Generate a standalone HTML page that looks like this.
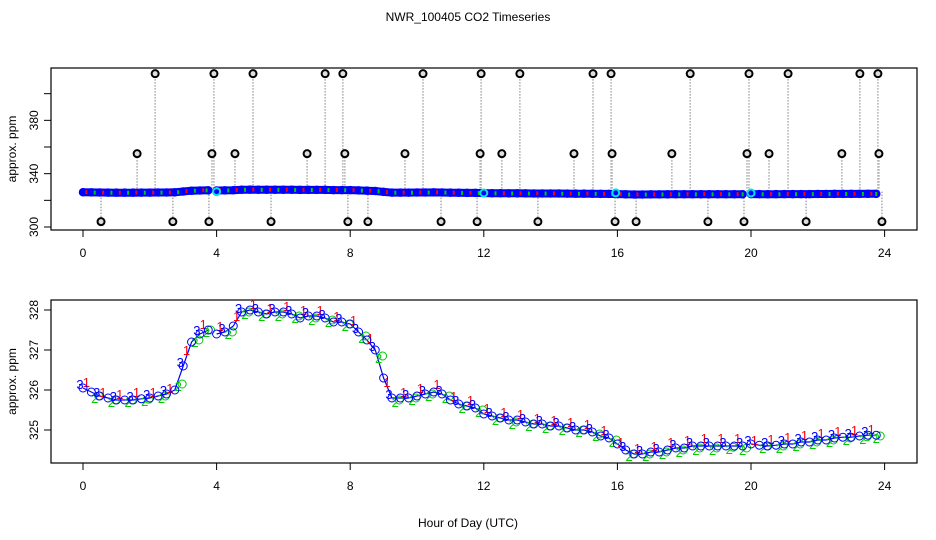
<!DOCTYPE html>
<html><head><meta charset="utf-8"><style>
html,body{margin:0;padding:0;background:#fff;}
svg{display:block;font-family:"Liberation Sans",sans-serif;}
</style></head><body>
<svg id="c" width="936" height="540" viewBox="0 0 936 540">
<text x="468" y="21" text-anchor="middle" font-size="12">NWR_100405  CO2 Timeseries</text>
<text x="468" y="527" text-anchor="middle" font-size="12">Hour of Day (UTC)</text>
<g id="topPanel"></g>
<g id="botPanel"></g>
</svg>
<script>
const xTicks=[0,4,8,12,16,20,24];
const topYTicks=[300,320,340,360,380,400];
const topYLabels=[300,340,380];
const botYTicks=[325,326,327,328];
const blueHours=[0,0.25,0.5,0.75,1,1.25,1.5,1.75,2,2.25,2.5,2.75,3,3.25,3.5,3.75,null,4,4.25,4.5,4.75,5,5.25,5.5,5.75,6,6.25,6.5,6.75,7,7.25,7.5,7.75,8,8.25,8.5,8.75,9,9.25,9.5,9.75,10,10.25,10.5,10.75,11,11.25,11.5,11.75,12,12.25,12.5,12.75,13,13.25,13.5,13.75,14,14.25,14.5,14.75,15,15.25,15.5,15.75,16,16.25,16.5,16.75,17,17.25,17.5,17.75,18,18.25,18.5,18.75,19,19.25,19.5,19.75,null,20,20.25,20.5,20.75,21,21.25,21.5,21.75,22,22.25,22.5,22.75,23,23.25,23.5,23.75];
const blueVals=[326.05,325.95,325.85,325.8,325.75,325.75,325.75,325.78,325.8,325.85,325.9,326.0,326.6,327.2,327.4,327.5,null,327.4,327.45,327.6,327.95,328.0,327.95,327.9,327.95,327.95,327.9,327.8,327.85,327.85,327.8,327.7,327.7,327.65,327.45,327.25,327.0,326.3,325.8,325.8,325.8,325.85,325.9,325.95,325.9,325.75,325.65,325.6,325.55,325.4,325.35,325.3,325.25,325.25,325.2,325.15,325.15,325.1,325.1,325.05,325.0,325.0,324.95,324.85,324.8,324.65,324.5,324.4,324.4,324.45,324.45,324.5,324.55,324.55,324.6,324.6,324.6,324.6,324.6,324.6,324.6,null,324.65,324.62,324.6,324.62,324.65,324.65,324.7,324.7,324.75,324.75,324.8,324.82,324.82,324.85,324.87,324.87];
const redHours=[0.1,0.6,1.1,1.6,2.1,2.6,3.1,3.6,4.1,4.6,5.1,5.6,6.1,6.6,7.1,7.6,8.1,8.6,9.1,9.6,10.1,10.6,11.1,11.6,12.1,12.6,13.1,13.6,14.1,14.6,15.1,15.6,16.1,16.6,17.1,17.6,18.1,18.6,19.1,19.6,20.1,20.6,21.1,21.6,22.1,22.6,23.1,23.6];
const redVals=[326.1,325.85,325.8,325.85,325.85,325.95,326.9,327.55,327.5,327.75,328.05,327.95,328.0,327.9,327.9,327.75,327.65,327.2,326.1,325.85,325.95,326.05,325.75,325.65,325.45,325.35,325.3,325.2,325.15,325.1,325.05,324.9,324.6,324.45,324.5,324.6,324.65,324.7,324.7,324.7,324.65,324.68,324.72,324.78,324.82,324.88,324.9,324.92];
const greenHours=[0.35,0.85,1.35,1.85,2.35,2.85,3.35,3.7,4.35,4.85,5.35,5.85,6.35,6.85,7.35,7.85,8.35,8.85,9.35,9.85,10.35,10.85,11.35,11.85,12.35,12.85,13.35,13.85,14.35,14.85,15.35,15.85,16.35,16.85,17.35,17.85,18.35,18.85,19.35,19.75,20.35,20.85,21.35,21.85,22.35,22.85,23.35,23.75];
const greenVals=[325.8,325.7,325.7,325.72,325.8,326.1,327.2,327.45,327.4,327.9,327.85,327.85,327.8,327.75,327.7,327.6,327.3,326.8,325.7,325.75,325.85,325.8,325.55,325.45,325.25,325.15,325.1,325.05,325.0,324.95,324.85,324.7,324.35,324.35,324.4,324.45,324.5,324.5,324.52,324.5,324.55,324.55,324.6,324.65,324.7,324.75,324.78,324.8];
const highOutHours=[2.16,3.92,5.09,7.25,7.78,10.18,11.92,13.08,15.27,15.81,18.18,19.94,21.11,23.26,23.80];
const highOutVals=[415,415,415,415,415,415,415,415,415,415,415,415,415,415,415];
const midOutHours=[1.62,3.86,4.55,6.71,7.84,9.64,11.89,12.54,14.70,15.84,17.63,19.88,20.54,22.72,23.83];
const midOutVals=[355,355,355,355,355,355,355,355,355,355,355,355,355,355,355];
const lowOutHours=[0.54,2.69,3.77,5.63,7.93,8.53,10.72,11.80,13.62,15.93,16.56,18.71,19.79,21.65,23.92];
const lowOutVals=[304,304,304,304,304,304,304,304,304,304,304,304,304,304,304];
const calHours=[4.0,12.0,15.95,20.0];
const calVals=[326.5,325.5,325.6,325.5];

const NS="http://www.w3.org/2000/svg";
function mk(p,t,a){const e=document.createElementNS(NS,t);for(const k in a)e.setAttribute(k,a[k]);p.appendChild(e);return e;}
const PL=51,PR=917;
const xs=h=>83+h*33.4;
const yTop=v=>227-(v-300)*1.3333;
const yBot=v=>430-(v-325)*40;

function axes(g,T,B,ys,ticks,labels,name){
  let e=mk(g,'rect',{x:PL,y:T,width:PR-PL,height:B-T,fill:'none',stroke:'#000','stroke-width':1.2});
  
  
  xTicks.forEach(h=>{
    e=mk(g,'line',{x1:xs(h),x2:xs(h),y1:B,y2:B+7,stroke:'#000'});
    
    
    e=mk(g,'text',{x:xs(h),y:B+27,'text-anchor':'middle','font-size':12});e.textContent=h;
    
    
  });
  ticks.forEach(v=>{
    e=mk(g,'line',{x1:PL-7,x2:PL,y1:ys(v),y2:ys(v),stroke:'#000'});
    
    
  });
  labels.forEach(v=>{
    e=mk(g,'text',{x:0,y:0,'text-anchor':'middle','font-size':12,transform:`translate(38,${ys(v)}) rotate(-90)`});e.textContent=v;
    
    
  });
  e=mk(g,'text',{x:0,y:0,'text-anchor':'middle','font-size':12,transform:`translate(16,${(T+B)/2}) rotate(-90)`});e.textContent='approx. ppm';
  
  
}
function pathD(hs,vs,ys){let d='',pen=false;hs.forEach((h,i)=>{if(h===null||vs[i]===null){pen=false;return;}d+=(pen?'L':'M')+xs(h).toFixed(1)+' '+ys(vs[i]).toFixed(1);pen=true;});return d;}

// top panel
const topG=document.getElementById('topPanel');
axes(topG,68,230,yTop,topYTicks,topYLabels,'top');
const baseV=326.5;
const outSets=[[highOutHours,highOutVals],[midOutHours,midOutVals],[lowOutHours,lowOutVals]];
outSets.forEach(([hs,vs])=>{
  hs.forEach((h,i)=>{
    const e=mk(topG,'line',{x1:xs(h),x2:xs(h),y1:yTop(baseV),y2:yTop(vs[i]),stroke:'#aaa','stroke-width':1.5,'stroke-dasharray':'1.5 1.5'});
    
    
  });
});
const band=mk(topG,'path',{d:pathD(blueHours,blueVals,yTop),fill:'none',stroke:'#0000ff','stroke-width':8,'stroke-linecap':'round'});


blueHours.forEach((h,i)=>{if(h===null)return;
  const c=mk(topG,'circle',{cx:xs(h),cy:yTop(blueVals[i]),r:3.5,fill:'none',stroke:'#0000ff','stroke-width':1.5});
  
  });
greenHours.forEach((h,i)=>{
  const c=mk(topG,'rect',{x:xs(h)-1,y:yTop(greenVals[i])-2,width:2,height:4,fill:'#00cc00'});
  
  });
redHours.forEach((h,i)=>{
  const c=mk(topG,'rect',{x:xs(h)-1,y:yTop(redVals[i])-2,width:2,height:4,fill:'#ff0000'});
  
  });
outSets.forEach(([hs,vs])=>{
  hs.forEach((h,i)=>{
    const c=mk(topG,'circle',{cx:xs(h),cy:yTop(vs[i]),r:3.5,fill:'#ddd',stroke:'#000','stroke-width':2});
    
    
  });
});
calHours.forEach((h,i)=>{
  const c=mk(topG,'circle',{cx:xs(h),cy:yTop(calVals[i]),r:3.5,fill:'none',stroke:'#00e5e5','stroke-width':2});
  
  });

// bottom panel
const botG=document.getElementById('botPanel');
axes(botG,300,463,yBot,botYTicks,botYTicks,'bottom');
const bl=mk(botG,'path',{d:pathD(blueHours,blueVals,yBot),fill:'none',stroke:'#0000ff','stroke-width':1.2});


greenHours.forEach((h,i)=>{
  const t=mk(botG,'text',{x:xs(h),y:yBot(greenVals[i])+5,'text-anchor':'middle','font-size':13,fill:'#00cc00'});t.textContent='2';
  
  
  const c=mk(botG,'circle',{cx:xs(h)+4,cy:yBot(greenVals[i])-2,r:4,fill:'none',stroke:'#00cc00','stroke-width':1});
  
  
});
redHours.forEach((h,i)=>{
  const t=mk(botG,'text',{x:xs(h),y:yBot(redVals[i])+1,'text-anchor':'middle','font-size':13,fill:'#ff0000'});t.textContent='1';
  
  
});
blueHours.forEach((h,i)=>{if(h===null)return;
  const c=mk(botG,'circle',{cx:xs(h),cy:yBot(blueVals[i]),r:4,fill:'none',stroke:'#0000ff','stroke-width':1});
  
  
  if(i%2===0){const t=mk(botG,'text',{x:xs(h)-3,y:yBot(blueVals[i])+1,'text-anchor':'middle','font-size':13,fill:'#0000ff'});t.textContent='3';
  
  }
});
</script>
</body></html>
